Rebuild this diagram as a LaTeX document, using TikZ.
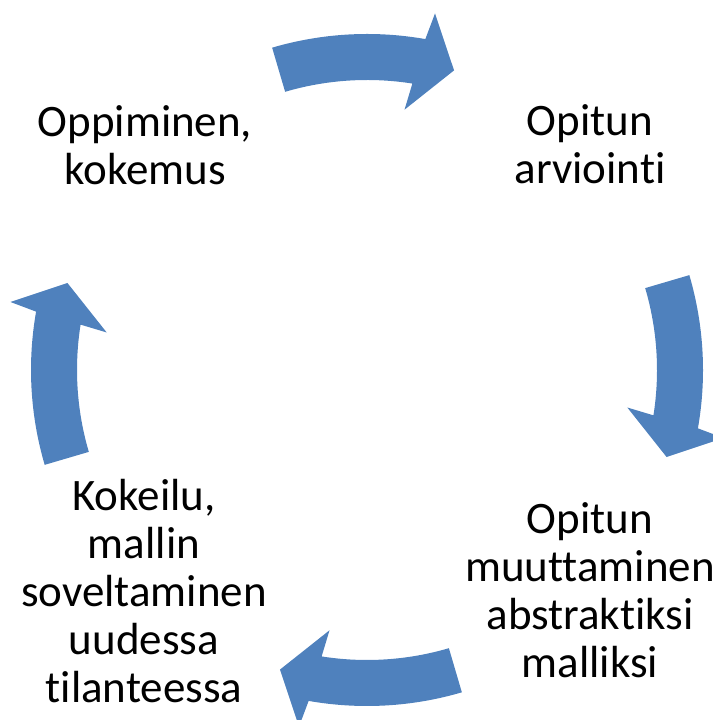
\documentclass[tikz,border=0pt]{standalone}
\usepackage{fontspec}
\setmainfont[Ligatures=NoCommon]{Carlito}
\usepackage{xcolor}
\usepackage{tikz}
\definecolor{cycleblue}{HTML}{4F81BD}
\tikzset{text node/.style={align=center,inner sep=0pt,font=\fontsize{32pt}{34.1pt}\selectfont},}
\tikzset{cycle arrow/.style={fill=cycleblue,draw=none},}

\begin{document}
\begin{tikzpicture}[x=0.025cm,y=0.025cm]
       \useasboundingbox (0,0) rectangle (712,720);
       \coordinate (c) at (367,350);

       \node[text node] (1) at (145,575) {Oppiminen,\\kokemus};
       \node[text node] (2) at (590,576) {Opitun\\arviointi};
       \node[text node] (3) at (590,130) {Opitun\\muuttaminen\\abstraktiksi\\malliksi};
       \node[text node] (4) at (144,129) {Kokeilu,\\mallin\\soveltaminen\\uudessa\\tilanteessa};

       \foreach \a in {0,90,180,270}
         \fill[cycle arrow,shift={(c)},rotate=\a]
              (16.4:336) arc[start angle=16.4,end angle=-10,radius=336]
              -- (-10.8:363) -- (-16.2:312) -- (-8.2:263) -- (-9:290)
              arc[start angle=-9,end angle=16.4,radius=290] -- cycle;
    \end{tikzpicture}
\end{document}
